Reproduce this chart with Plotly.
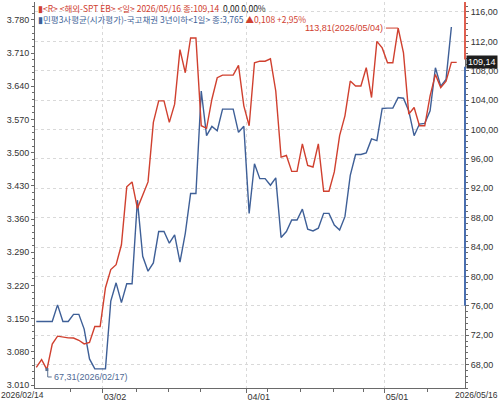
import plotly.graph_objects as go

# ---- data ----
x_tick_labels = ["2026/02/14", "03/02", "04/01", "05/01", "2026/05/16"]
x_tick_index = [13, 40, 66]          # data index of 03/02, 04/01, 05/01

spt_eb = [67.6, 68.67, 67.31, 70.78, 71.86, 71.69, 71.62, 71.6, 71.3, 70.8,
          71.0, 73.17, 73.17, 78.45, 80.92, 81.59, 84.3, 92.19, 92.86, 89.26,
          91.01, 92.86, 100.97, 103.89, 103.89, 100.97, 103.45, 110.88, 107.73, 112.46,
          112.46, 100.51, 100.16, 104.12, 107.05, 107.4, 107.4, 107.4, 108.72, 103.22,
          100.51, 109.08, 109.3, 109.3, 109.62, 105.24, 96.24, 96.46, 94.3, 94.3,
          98.04, 95.11, 94.89, 98.04, 91.59, 91.59, 94.22, 99.16, 101.86, 106.59,
          105.92, 105.92, 108.41, 104.35, 112.0, 111.11, 109.08, 109.08, 113.81, 110.43,
          102.09, 103.0, 100.51, 100.51, 104.57, 107.5, 105.7, 106.59, 109.14, 109.14]

bond_3y = [3.144, 3.144, 3.144, 3.144, 3.179, 3.144, 3.144, 3.159, 3.159, 3.128,
           3.065, 3.044, 3.044, 3.044, 3.187, 3.2255, 3.1837, 3.2234, 3.2234, 3.3998,
           3.2814, 3.250, 3.2674, 3.3337, 3.3337, 3.309, 3.3266, 3.269, 3.330, 3.4138,
           3.4138, 3.630, 3.5358, 3.5555, 3.5463, 3.5917, 3.5917, 3.5917, 3.5429, 3.5555,
           3.372, 3.4766, 3.4452, 3.4452, 3.4312, 3.4467, 3.3211, 3.3337, 3.358, 3.358,
           3.381, 3.3385, 3.335, 3.3406, 3.372, 3.372, 3.3475, 3.337, 3.365, 3.4521,
           3.4961, 3.4961, 3.4996, 3.5289, 3.5254, 3.5931, 3.5938, 3.5938, 3.6162, 3.6147,
           3.5881, 3.5358, 3.5603, 3.5618, 3.5881, 3.6789, 3.6404, 3.6545, 3.765]

left_ticks = [3.010, 3.080, 3.150, 3.220, 3.290, 3.360, 3.430, 3.500, 3.570, 3.640, 3.710, 3.780]
right_ticks = [68, 72, 76, 80, 84, 88, 92, 96, 100, 104, 108, 112, 116]

min_label = "67,31(2026/02/17)"
max_label = "113,81(2026/05/04)"
legend_r = "<R> <해외-SPT EB> <일> 2026/05/16 종:109,14"
legend_r_chg = "0,00 0,00%"
legend_b = "민평3사평균(시가평가)-국고채권 3년이하<1일> 종:3,765"
legend_b_chg = "▲0,108 +2,95%"

RED = "#d0402f"
BLUE = "#3e5f97"
AX = "#6a6a6a"
TXT = "#333333"
NARROW = "Liberation Sans Narrow, Liberation Sans, Noto Sans CJK KR"
KFONT = "Liberation Sans Narrow, Noto Sans CJK KR"

L_MARGIN, R_MARGIN, T_MARGIN, B_MARGIN = 35, 35, 2, 13
W, H = 500, 404
PW = W - L_MARGIN - R_MARGIN
PH = H - T_MARGIN - B_MARGIN


def comma(v, d):
    return f"{v:,.{d}f}".replace(",", "#").replace(".", ",").replace("#", ".")


def ypaper(px):
    return (H - B_MARGIN - px) / PH


xr = list(range(len(spt_eb)))
xb = list(range(len(bond_3y)))

fig = go.Figure()
fig.add_trace(go.Scatter(x=xr, y=spt_eb, yaxis="y2", mode="lines",
                         line=dict(color=RED, width=1.4), hoverinfo="skip"))
fig.add_trace(go.Scatter(x=xb, y=bond_3y, yaxis="y", mode="lines",
                         line=dict(color=BLUE, width=1.4), hoverinfo="skip"))

imin = spt_eb.index(min(spt_eb))
imax = spt_eb.index(max(spt_eb))
fig.add_trace(go.Scatter(x=[imin], y=[spt_eb[imin]], yaxis="y2", mode="markers",
                         marker=dict(color="#5a7090", size=3, symbol="square"), hoverinfo="skip"))

fig.update_layout(
    width=W, height=H,
    margin=dict(l=L_MARGIN, r=R_MARGIN, t=T_MARGIN, b=B_MARGIN),
    paper_bgcolor="white", plot_bgcolor="white",
    showlegend=False,
    xaxis=dict(
        range=[-0.24, 80.56],
        tickmode="array",
        tickvals=[i - 0.5 for i in x_tick_index],
        ticktext=x_tick_labels[1:4],
        ticks="outside", ticklen=4, tickcolor=AX,
        showline=True, linecolor=AX, linewidth=1,
        showgrid=True, gridcolor="#d9d9d9", griddash="dot", gridwidth=1,
        zeroline=False,
        ticklabelposition="outside right",
        tickfont=dict(family=NARROW, size=9, color=TXT),
        minor=dict(tickmode="array", tickvals=[6.5, 18.9, 24.8, 30.8, 43.4, 49.6, 55.8, 61.5, 73.6],
                   ticks="outside", ticklen=3, tickcolor=AX, showgrid=False),
    ),
    yaxis=dict(
        range=[3.0037, 3.8177],
        tickmode="array", tickvals=left_ticks,
        ticktext=[comma(v * 1000, 0) for v in left_ticks],
        ticks="outside", ticklen=3, tickcolor=AX,
        showline=True, linecolor=AX, linewidth=1,
        showgrid=False, zeroline=False,
        tickfont=dict(family=NARROW, size=9, color=TXT),
        minor=dict(tickmode="linear", tick0=3.010, dtick=0.014,
                   ticks="outside", ticklen=2, tickcolor=AX, showgrid=False),
    ),
    yaxis2=dict(
        overlaying="y", side="right",
        range=[64.80, 117.36],
        tickmode="array", tickvals=right_ticks,
        ticktext=[comma(v, 2) for v in right_ticks],
        ticks="outside", ticklen=3, tickcolor=AX,
        showline=True, linecolor=AX, linewidth=1,
        showgrid=True, gridcolor="#d9d9d9", griddash="dot", gridwidth=1,
        zeroline=False,
        tickfont=dict(family=NARROW, size=9, color=TXT),
        minor=dict(tickmode="linear", tick0=68, dtick=0.8,
                   ticks="outside", ticklen=2, tickcolor=AX, showgrid=False),
    ),
)

legend_text = (f"<span style='color:{RED}'>▮{legend_r}</span>  "
               f"<span style='color:#222'>{legend_r_chg}</span><br>"
               f"<span style='color:{BLUE}'>▮{legend_b}</span> "
               f"<span style='color:{RED}'>{legend_b_chg}</span>")

annotations = [
    dict(xref="paper", yref="paper", x=0, y=ypaper(0.5), xanchor="left", yanchor="top", xshift=2,
         showarrow=False, align="left", borderpad=0,
         text=legend_text, font=dict(family=KFONT, size=8.5, color=BLUE)),
    dict(xref="paper", yref="paper", x=-L_MARGIN / PW, y=0, xanchor="left", yanchor="top", yshift=-1,
         showarrow=False, text=x_tick_labels[0], borderpad=0,
         font=dict(family=NARROW, size=8.5, color=TXT)),
    dict(xref="paper", yref="paper", x=1 + (R_MARGIN - 1) / PW, y=0, xanchor="right", yanchor="top", yshift=-1,
         showarrow=False, text=x_tick_labels[-1], borderpad=0,
         font=dict(family=NARROW, size=8.5, color=TXT)),
    dict(xref="x", yref="y2", x=imin + 1.0, y=66.3, xanchor="left", yanchor="middle",
         showarrow=False, text=min_label, font=dict(family=NARROW, size=9, color="#4f6a95")),
    dict(xref="x", yref="y2", x=imax - 2.4, y=spt_eb[imax], xanchor="right", yanchor="middle",
         showarrow=False, text=max_label, font=dict(family=NARROW, size=9, color=RED)),
    dict(xref="paper", yref="y2", x=1, y=spt_eb[-1], xanchor="left", yanchor="middle", xshift=1,
         showarrow=False, text=comma(spt_eb[-1], 2), bgcolor="#1e1e1e", borderpad=1,
         font=dict(family=NARROW, size=9, color="white")),
]
fig.update_layout(annotations=annotations)

shapes = [
    dict(type="path", xref="x", yref="y2",
         path=f"M {imin + 0.15},{spt_eb[imin] - 0.2} L {imin + 0.15},66.3 L {imin + 0.9},66.3",
         line=dict(color="#5a7090", width=1)),
    dict(type="line", xref="x", yref="y2", x0=imax - 2.3, x1=imax, y0=spt_eb[imax], y1=spt_eb[imax],
         line=dict(color=RED, width=1)),
    dict(type="line", xref="paper", yref="y2", x0=1, x1=1, y0=117.36, y1=spt_eb[-1] + 0.4,
         line=dict(color="#e06050", width=2)),
    dict(type="line", xref="paper", yref="y2", x0=1, x1=1, y0=spt_eb[-1] - 0.6, y1=76.0,
         line=dict(color="#4a6fb0", width=2)),
]
fig.update_layout(shapes=shapes)

fig.write_html("out.html")
